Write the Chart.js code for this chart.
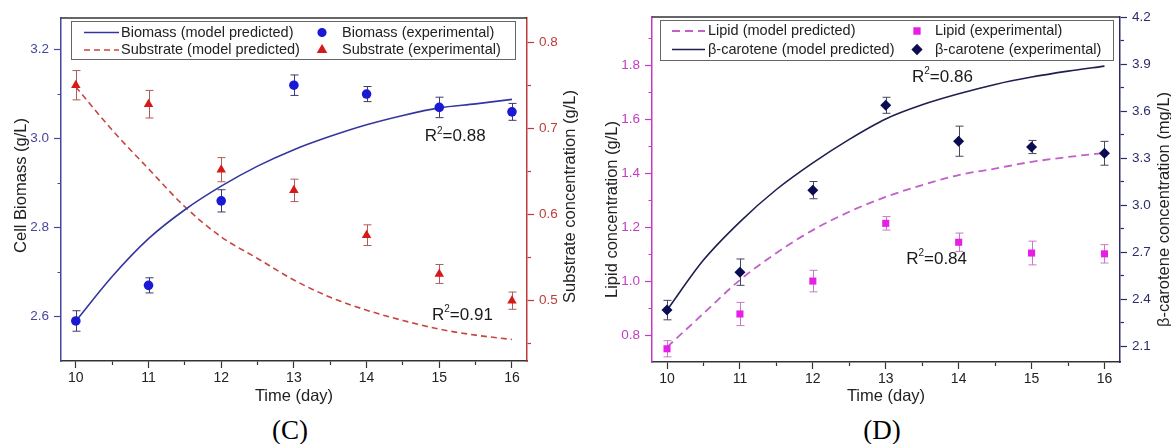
<!DOCTYPE html>
<html lang="en">
<head>
<meta charset="UTF-8">
<title>Biomass, substrate, lipid and β-carotene vs time</title>
<script src="https://cdn.jsdelivr.net/npm/chart.js"></script>
<style>
    body {
        margin: 0;
        width: 1171px;
        height: 444px;
        overflow: hidden;
        position: relative;
        background: #fff;
        font-family: "Liberation Sans", Arial, sans-serif;
    }
    .panel { position: absolute; top: 0; height: 410px; }
    #panelC { left: 0; width: 590px; }
    #panelD { left: 590px; width: 581px; }
    .caption {
        position: absolute;
        top: 415px;
        line-height: 30px;
        font-family: "Liberation Serif", "Times New Roman", serif;
        font-size: 27px;
        color: #000;
        transform: translateX(-50%);
    }
</style>
</head>
<body>

<div class="panel" id="panelC"><canvas id="chartC"></canvas></div>
<div class="panel" id="panelD"><canvas id="chartD"></canvas></div>
<div class="caption" style="left:290px">(C)</div>
<div class="caption" style="left:882px">(D)</div>

<script>
// shared x values
const days = [10, 11, 12, 13, 14, 15, 16];
const modelDays = [10, 10.5, 11, 11.5, 12, 12.5, 13, 13.5, 14, 14.5, 15, 15.5, 16];
const dayTicks = [10, 10.5, 11, 11.5, 12, 12.5, 13, 13.5, 14, 14.5, 15, 15.5, 16];
const dayTickLabels = ['10', '', '11', '', '12', '', '13', '', '14', '', '15', '', '16'];

// panel C: biomass (left axis) and substrate (right axis)
const biomassModel = [2.59, 2.69, 2.775, 2.84, 2.893, 2.938, 2.975, 3.005, 3.031, 3.052, 3.069, 3.078, 3.088];
const biomassExp = [2.59, 2.67, 2.86, 3.12, 3.10, 3.07, 3.06];
const biomassErr = [0.023, 0.017, 0.025, 0.023, 0.017, 0.023, 0.019];
const substrateModel = [0.748, 0.698, 0.653, 0.609, 0.574, 0.549, 0.524, 0.504, 0.489, 0.477, 0.467, 0.460, 0.455];
const substrateExp = [0.750, 0.728, 0.652, 0.628, 0.576, 0.531, 0.500];
const substrateErr = [0.017, 0.016, 0.014, 0.013, 0.012, 0.011, 0.010];
const biomassTicks = [2.6, 2.7, 2.8, 2.9, 3.0, 3.1, 3.2];
const biomassTickLabels = ['2.6', '', '2.8', '', '3.0', '', '3.2'];
const substrateTicks = [0.45, 0.5, 0.55, 0.6, 0.65, 0.7, 0.75, 0.8];
const substrateTickLabels = ['', '0.5', '', '0.6', '', '0.7', '', '0.8'];
const r2C = ['0.88', '0.91'];

// panel D: lipid (left axis) and beta-carotene (right axis)
const lipidModel = [0.755, 0.88, 1.004, 1.104, 1.189, 1.257, 1.312, 1.356, 1.393, 1.417, 1.442, 1.46, 1.475];
const lipidExp = [0.749, 0.878, 1.0, 1.214, 1.144, 1.104, 1.101];
const lipidErr = [0.03, 0.043, 0.04, 0.025, 0.034, 0.044, 0.034];
const caroteneModel = [2.331, 2.65, 2.894, 3.10, 3.27, 3.42, 3.55, 3.64, 3.71, 3.77, 3.817, 3.855, 3.887];
const caroteneExp = [2.331, 2.573, 3.096, 3.637, 3.408, 3.371, 3.331];
const caroteneErr = [0.062, 0.084, 0.055, 0.051, 0.096, 0.042, 0.076];
const lipidTicks = [0.8, 0.9, 1.0, 1.1, 1.2, 1.3, 1.4, 1.5, 1.6, 1.7, 1.8, 1.9];
const lipidTickLabels = ['0.8', '', '1.0', '', '1.2', '', '1.4', '', '1.6', '', '1.8', ''];
const caroteneTicks = [2.1, 2.25, 2.4, 2.55, 2.7, 2.85, 3.0, 3.15, 3.3, 3.45, 3.6, 3.75, 3.9, 4.05, 4.2];
const caroteneTickLabels = ['2.1', '', '2.4', '', '2.7', '', '3.0', '', '3.3', '', '3.6', '', '3.9', '', '4.2'];
const r2D = ['0.86', '0.84'];

const FONT = '"Liberation Sans", Arial, sans-serif';
Chart.defaults.font.family = FONT;

function pts(xs, ys) {
    return xs.map((x, i) => ({ x: x, y: ys[i] }));
}

// error bars drawn under the markers
const errorBars = {
    id: 'errorBars',
    beforeDatasetsDraw(chart) {
        const ctx = chart.ctx;
        chart.data.datasets.forEach(ds => {
            if (!ds.errors) return;
            const xs = chart.scales.x, ys = chart.scales[ds.yAxisID];
            ctx.save();
            ctx.strokeStyle = ds.errorColor;
            ctx.lineWidth = 1;
            ds.data.forEach((p, j) => {
                const x = Math.round(xs.getPixelForValue(p.x)) + 0.5;
                const top = ys.getPixelForValue(p.y + ds.errors[j]);
                const bot = ys.getPixelForValue(p.y - ds.errors[j]);
                ctx.beginPath();
                ctx.moveTo(x, top); ctx.lineTo(x, bot);
                ctx.moveTo(x - 4, top); ctx.lineTo(x + 4, top);
                ctx.moveTo(x - 4, bot); ctx.lineTo(x + 4, bot);
                ctx.stroke();
            });
            ctx.restore();
        });
    }
};

// top edge of the plot frame
const frameTop = {
    id: 'frameTop',
    afterDraw(chart) {
        const { ctx, chartArea: a } = chart;
        ctx.save();
        ctx.strokeStyle = '#333';
        ctx.lineWidth = 1.5;
        ctx.beginPath();
        ctx.moveTo(a.left, a.top);
        ctx.lineTo(a.right, a.top);
        ctx.stroke();
        ctx.restore();
    }
};

// vertical axis titles, both read bottom to top as in Origin
const yTitles = {
    id: 'yTitles',
    afterDraw(chart, args, opts) {
        if (!opts.items) return;
        const { ctx, chartArea: a, width } = chart;
        ctx.save();
        ctx.fillStyle = '#222';
        ctx.font = '16.5px ' + FONT;
        ctx.textAlign = 'center';
        ctx.textBaseline = 'middle';
        opts.items.forEach(it => {
            const x = it.side === 'left' ? it.x : width - it.x;
            const y = (a.top + a.bottom) / 2 + it.dy;
            ctx.save();
            ctx.translate(x, y);
            ctx.rotate(-Math.PI / 2);
            ctx.fillText(it.text, 0, 0);
            ctx.restore();
        });
        ctx.restore();
    }
};

// Origin style boxed legend inside the plot
const boxLegend = {
    id: 'boxLegend',
    afterDraw(chart, args, opts) {
        if (!opts.items) return;
        const { ctx, chartArea: a } = chart;
        const L = a.left + opts.left, T = a.top + opts.top, R = a.right - opts.right;
        ctx.save();
        ctx.fillStyle = '#fff';
        ctx.fillRect(L, T, R - L, opts.height);
        ctx.strokeStyle = '#666';
        ctx.lineWidth = 1;
        ctx.strokeRect(Math.round(L) + 0.5, Math.round(T) + 0.5, Math.round(R - L), opts.height);
        ctx.textBaseline = 'middle';
        opts.items.forEach(it => {
            const ds = chart.data.datasets[it.dataset];
            const col = opts.cols[it.col];
            const y = T + opts.rows[it.row];
            if (ds.showLine) {
                ctx.strokeStyle = ds.borderColor;
                ctx.lineWidth = ds.borderWidth;
                ctx.setLineDash(ds.borderDash || []);
                ctx.beginPath();
                ctx.moveTo(L + col.sample[0], y);
                ctx.lineTo(L + col.sample[1], y);
                ctx.stroke();
                ctx.setLineDash([]);
            } else {
                ctx.fillStyle = ds.backgroundColor;
                ctx.strokeStyle = ds.borderColor;
                Chart.helpers.drawPoint(ctx, { pointStyle: ds.pointStyle, radius: ds.pointRadius - 1, borderWidth: 1, rotation: 0 }, L + col.marker, y);
            }
            ctx.fillStyle = '#222';
            ctx.font = '14.5px ' + FONT;
            ctx.fillText(ds.label, L + col.text, y);
        });
        ctx.restore();
    }
};

// R² annotations
const r2Labels = {
    id: 'r2Labels',
    afterDatasetsDraw(chart, args, opts) {
        if (!opts.items) return;
        const ctx = chart.ctx;
        ctx.save();
        ctx.fillStyle = '#1a1a1a';
        ctx.textBaseline = 'middle';
        opts.items.forEach(it => {
            let x = chart.scales.x.getPixelForValue(it.day);
            const y = chart.scales[it.axis].getPixelForValue(it.value);
            ctx.font = '17px ' + FONT;
            ctx.fillText('R', x, y);
            x += ctx.measureText('R').width;
            ctx.font = '10px ' + FONT;
            ctx.fillText('2', x, y - 6);
            x += ctx.measureText('2').width;
            ctx.font = '17px ' + FONT;
            ctx.fillText('=' + it.text, x, y);
        });
        ctx.restore();
    }
};

// minor ticks (no label) are drawn half length with a dash pattern;
// left-axis tick lines start at their outer end, the others at the axis
function minorDash(labels, fromOuter) {
    const dash = fromOuter ? [0, 3.5, 3.5, 100] : [3.5, 100];
    return c => (labels[c.index] ? [] : dash);
}

function xAxis(min, max, height) {
    return {
        type: 'linear',
        min: min,
        max: max,
        afterBuildTicks: ax => { ax.ticks = dayTicks.map(v => ({ value: v })); },
        afterFit: ax => { ax.height = height; },
        ticks: { color: '#222', font: { size: 14 }, padding: 2, maxRotation: 0, autoSkip: false,
                 callback: (v, i) => dayTickLabels[i] },
        grid: { drawOnChartArea: false, tickLength: 7, tickColor: '#333', tickWidth: 1.2,
                tickBorderDash: minorDash(dayTickLabels, false) },
        border: { color: '#333', width: 1.5 },
        title: { display: true, text: 'Time (day)', color: '#222', font: { size: 16.5, lineHeight: 1 },
                 padding: { top: 0, bottom: 5 } }
    };
}

function yAxis(side, color, min, max, ticks, labels, width) {
    return {
        type: 'linear',
        position: side,
        min: min,
        max: max,
        afterBuildTicks: ax => { ax.ticks = ticks.map(v => ({ value: v })); },
        afterFit: ax => { ax.width = width; },
        ticks: { color: color, font: { size: 13.5 }, padding: 5, autoSkip: false,
                 callback: (v, i) => labels[i] },
        grid: { drawOnChartArea: false, tickLength: 7, tickColor: color, tickWidth: 1.2,
                tickBorderDash: minorDash(labels, side === 'left') },
        border: { color: color, width: 1.5 }
    };
}

// ---------- panel C ----------
new Chart(document.getElementById('chartC'), {
    type: 'scatter',
    data: {
        datasets: [
            {
                label: 'Biomass (experimental)',
                data: pts(days, biomassExp),
                yAxisID: 'y',
                pointStyle: 'circle',
                pointRadius: 4.8,
                backgroundColor: '#1a1ad6',
                borderColor: '#1a1ad6',
                borderWidth: 0,
                errors: biomassErr,
                errorColor: '#3a3a6e'
            },
            {
                label: 'Substrate (experimental)',
                data: pts(days, substrateExp),
                yAxisID: 'y1',
                pointStyle: 'triangle',
                pointRadius: 5.5,
                backgroundColor: '#d61a1a',
                borderColor: '#d61a1a',
                borderWidth: 0,
                errors: substrateErr,
                errorColor: '#b05a5a'
            },
            {
                label: 'Biomass (model predicted)',
                data: pts(modelDays, biomassModel),
                yAxisID: 'y',
                showLine: true,
                pointRadius: 0,
                borderColor: '#3535a0',
                borderWidth: 1.6,
                cubicInterpolationMode: 'monotone'
            },
            {
                label: 'Substrate (model predicted)',
                data: pts(modelDays, substrateModel),
                yAxisID: 'y1',
                showLine: true,
                pointRadius: 0,
                borderColor: '#c8463f',
                borderWidth: 1.6,
                borderDash: [6, 4],
                cubicInterpolationMode: 'monotone'
            }
        ]
    },
    options: {
        responsive: true,
        maintainAspectRatio: false,
        animation: false,
        layout: { padding: { top: 18, left: 0, right: 0, bottom: 0 } },
        plugins: {
            legend: { display: false },
            tooltip: { enabled: false },
            boxLegend: {
                left: 10, right: 12, top: 3, height: 38,
                rows: [11.5, 29],
                cols: [{ sample: [13, 48], text: 50 }, { marker: 251, text: 271 }],
                items: [
                    { dataset: 2, row: 0, col: 0 },
                    { dataset: 3, row: 1, col: 0 },
                    { dataset: 0, row: 0, col: 1 },
                    { dataset: 1, row: 1, col: 1 }
                ]
            },
            r2Labels: {
                items: [
                    { text: r2C[0], day: 14.8, value: 3.004, axis: 'y' },
                    { text: r2C[1], day: 14.9, value: 2.603, axis: 'y' }
                ]
            },
            yTitles: {
                items: [
                    { text: 'Cell Biomass (g/L)', side: 'left', x: 21, dy: -4 },
                    { text: 'Substrate concentration (g/L)', side: 'right', x: 20, dy: 7 }
                ]
            }
        },
        scales: {
            x: xAxis(9.796, 16.207, 49),
            y: yAxis('left', '#4646a0', 2.5, 3.271, biomassTicks, biomassTickLabels, 61),
            y1: yAxis('right', '#c03a3a', 0.43, 0.828, substrateTicks, substrateTickLabels, 63)
        }
    },
    plugins: [errorBars, frameTop, yTitles, boxLegend, r2Labels]
});

// ---------- panel D ----------
new Chart(document.getElementById('chartD'), {
    type: 'scatter',
    data: {
        datasets: [
            {
                label: 'Lipid (experimental)',
                data: pts(days, lipidExp),
                yAxisID: 'y',
                pointStyle: 'rect',
                pointRadius: 5,
                backgroundColor: '#e61ee6',
                borderColor: '#e61ee6',
                borderWidth: 0,
                errors: lipidErr,
                errorColor: '#c878c8'
            },
            {
                label: 'β-carotene (experimental)',
                data: pts(days, caroteneExp),
                yAxisID: 'y1',
                pointStyle: 'rectRot',
                pointRadius: 5.5,
                backgroundColor: '#0c0c52',
                borderColor: '#0c0c52',
                borderWidth: 0,
                errors: caroteneErr,
                errorColor: '#45455c'
            },
            {
                label: 'Lipid (model predicted)',
                data: pts(modelDays, lipidModel),
                yAxisID: 'y',
                showLine: true,
                pointRadius: 0,
                borderColor: '#c060c8',
                borderWidth: 1.8,
                borderDash: [8, 5],
                cubicInterpolationMode: 'monotone'
            },
            {
                label: 'β-carotene (model predicted)',
                data: pts(modelDays, caroteneModel),
                yAxisID: 'y1',
                showLine: true,
                pointRadius: 0,
                borderColor: '#1e1e50',
                borderWidth: 1.6,
                cubicInterpolationMode: 'monotone'
            }
        ]
    },
    options: {
        responsive: true,
        maintainAspectRatio: false,
        animation: false,
        layout: { padding: { top: 17, left: 0, right: 0, bottom: 0 } },
        plugins: {
            legend: { display: false },
            tooltip: { enabled: false },
            boxLegend: {
                left: 8, right: 7, top: 2.5, height: 40,
                rows: [11.5, 30],
                cols: [{ sample: [12, 45], text: 48 }, { marker: 257, text: 275 }],
                items: [
                    { dataset: 2, row: 0, col: 0 },
                    { dataset: 3, row: 1, col: 0 },
                    { dataset: 0, row: 0, col: 1 },
                    { dataset: 1, row: 1, col: 1 }
                ]
            },
            r2Labels: {
                items: [
                    { text: r2D[0], day: 13.36, value: 3.813, axis: 'y1' },
                    { text: r2D[1], day: 13.28, value: 1.081, axis: 'y' }
                ]
            },
            yTitles: {
                items: [
                    { text: 'Lipid concentration (g/L)', side: 'left', x: 22, dy: 20 },
                    { text: 'β-carotene concentration (mg/L)', side: 'right', x: 7, dy: 20 }
                ]
            }
        },
        scales: {
            x: xAxis(9.794, 16.213, 48),
            y: yAxis('left', '#c43cc4', 0.7, 1.979, lipidTicks, lipidTickLabels, 62),
            y1: yAxis('right', '#2c2c6a', 2.0, 4.2, caroteneTicks, caroteneTickLabels, 51)
        }
    },
    plugins: [errorBars, frameTop, yTitles, boxLegend, r2Labels]
});
</script>

</body>
</html>
